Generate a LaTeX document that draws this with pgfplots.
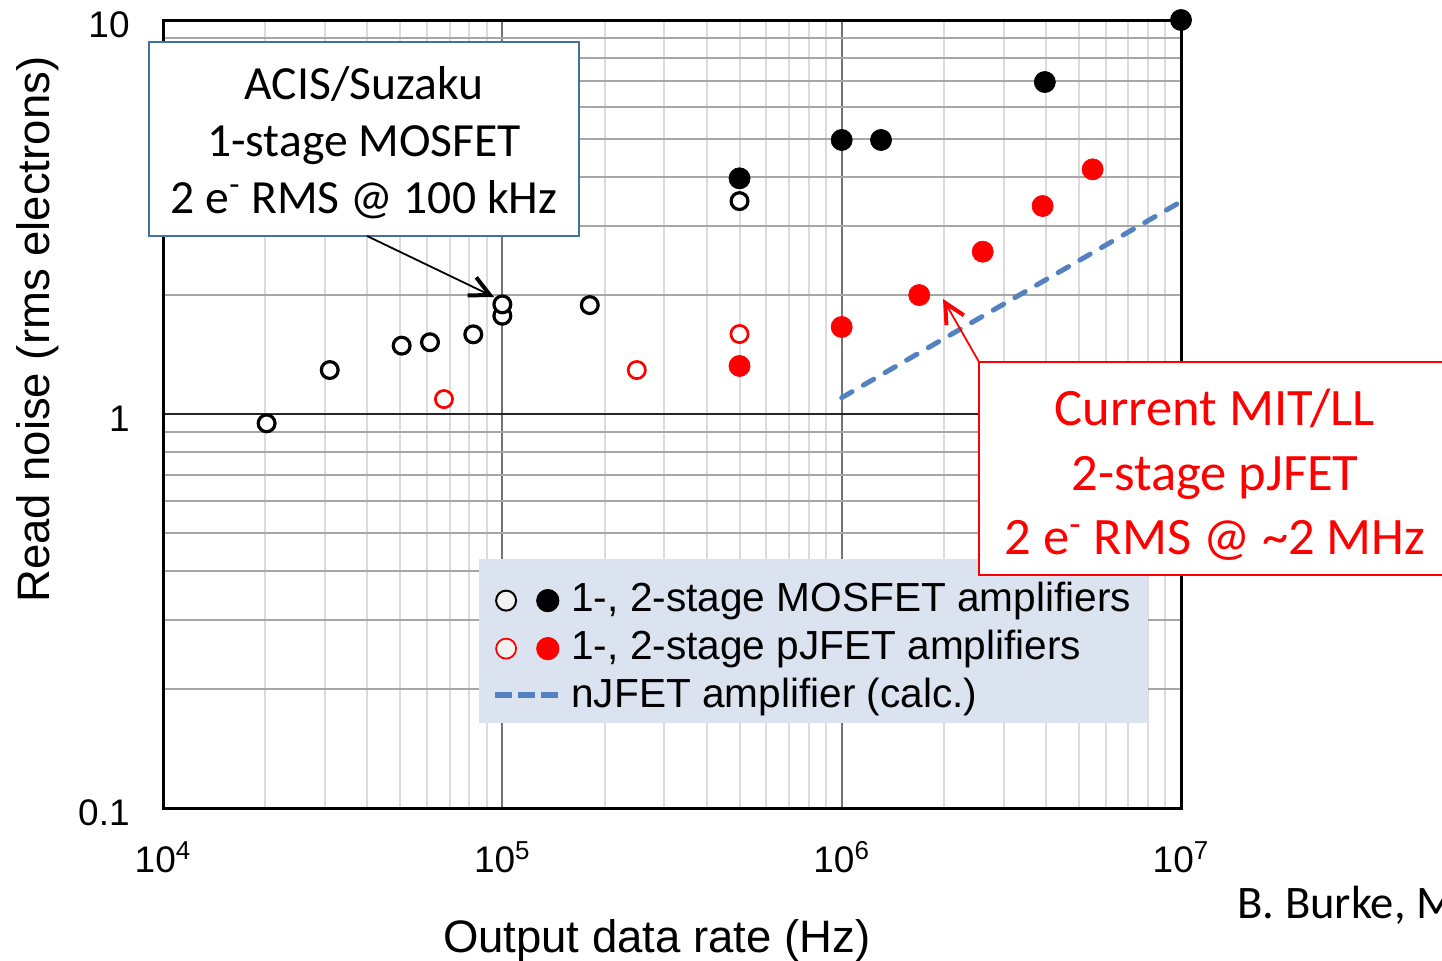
\documentclass[border=0pt]{standalone}
\usepackage{pgfplots}
\pgfplotsset{compat=1.18}
\usepackage{fontspec}
\setmainfont{Liberation Sans}
\newfontfamily\calibri{Carlito}
\usetikzlibrary{arrows.meta}
\definecolor{boxblue}{RGB}{65,113,156}
\definecolor{legbg}{RGB}{219,227,240}
\definecolor{njfet}{RGB}{84,130,192}
\begin{document}
\begin{tikzpicture}
\useasboundingbox (0,0) rectangle (721pt,480pt);
\clip (0,0) rectangle (721pt,480pt);
\begin{axis}[
  at={(81.5pt,76pt)}, anchor=south west,
  scale only axis, width=509pt, height=394pt,
  xmode=log, ymode=log,
  xmin=1e4, xmax=1e7, ymin=0.1, ymax=10,
  clip=false,
  xtick={1e4,1e5,1e6,1e7},
  xticklabels={10\textsuperscript{4},10\textsuperscript{5},10\textsuperscript{6},10\textsuperscript{7}},
  ytick={0.1,1,10}, yticklabels={0.1,1,10},
  /pgf/number format/assume math mode=true,
  tick label style={font=\fontsize{18.5}{20}\selectfont, inner sep=0pt},
  xticklabel style={anchor=base, yshift=-32pt},
  yticklabel style={anchor=base east, xshift=-16.5pt, yshift=-8.5pt},
  major tick length=0pt, minor tick length=0pt,
  grid=both,
  major x grid style={black!55, line width=1pt},
  major y grid style={black!85, line width=1pt},
  minor x grid style={black!14, line width=1pt},
  minor y grid style={black!35, line width=1pt},
  axis line style={line width=1.5pt},
  xlabel={Output data rate (Hz)},
  ylabel={Read noise (rms electrons)},
  label style={font=\fontsize{22.75}{26}\selectfont},
  xlabel style={at={(axis description cs:0.485,-0.168)}, anchor=center},
  ylabel style={at={(axis description cs:-0.1227,0.607)}, anchor=center},
  legend style={at={(rel axis cs:0.3104,0.317)}, anchor=north west, fill=legbg, draw=none,
    font=\fontsize{20.3}{24}\selectfont, inner xsep=6.5pt, inner ysep=5pt, row sep=0pt,
    nodes={inner sep=2pt, text height=19.5pt, text depth=0.5pt},
    /tikz/every odd column/.append style={column sep=3pt}},
  legend cell align=left,
]
% 1-stage MOSFET (open black)
\addplot[only marks, mark=*, mark size=4.2pt, mark options={draw=black, fill=white, line width=1.6pt}, forget plot]
coordinates {(2.02e4,0.947) (3.1e4,1.293) (5.05e4,1.491) (6.12e4,1.521) (8.21e4,1.593) (1.0e5,1.776) (1.0e5,1.898) (1.81e5,1.890) (5.0e5,3.47)};
% 2-stage MOSFET (filled black)
\addplot[only marks, mark=*, mark size=5.3pt, mark options={draw=black, fill=black, line width=0.3pt}, forget plot]
coordinates {(5.0e5,3.965) (1.0e6,4.96) (1.306e6,4.96) (3.97e6,6.96) (1.0e7,10.0)};
% 1-stage pJFET (open red)
\addplot[only marks, mark=*, mark size=4.3pt, mark options={draw=red, fill=white, line width=1.35pt}, forget plot]
coordinates {(6.73e4,1.091) (2.49e5,1.293) (5.0e5,1.596)};
% 2-stage pJFET (filled red)
\addplot[only marks, mark=*, mark size=5.3pt, mark options={draw=red, fill=red, line width=0.3pt}, forget plot]
coordinates {(5.0e5,1.324) (1.0e6,1.663) (1.693e6,2.004) (2.604e6,2.582) (3.91e6,3.372) (5.49e6,4.178)};
% nJFET (calc.)
\addplot[njfet, line width=2.5pt, line cap=round, dash pattern=on 6pt off 6.5pt, forget plot]
coordinates {(1.0e6,1.10) (1.0e7,3.46)};

\addlegendimage{legend image code/.code={
  \draw[black, line width=1pt, fill=black!5] (5.35pt,-4pt) circle (5pt);
  \fill[black] (26.2pt,-4pt) circle (5.6pt);
}}
\addlegendentry{1-, 2-stage MOSFET amplifiers}
\addlegendimage{legend image code/.code={
  \draw[red, line width=0.9pt, fill=black!5] (5.35pt,-4pt) circle (5pt);
  \fill[red] (26.2pt,-4pt) circle (5.6pt);
}}
\addlegendentry{1-, 2-stage pJFET amplifiers}
\addlegendimage{legend image code/.code={
  \draw[njfet, line width=3pt, dash pattern=on 8.5pt off 3pt] (0pt,-3pt) -- (31.5pt,-3pt);
}}
\addlegendentry{nJFET amplifier (calc.)}
\end{axis}

\begin{scope}[shift={(0pt,480pt)}, x=0.5pt, y=-0.5pt]
  % ACIS/Suzaku box
  \draw[boxblue, line width=1pt, fill=white] (149,42) rectangle (579,236);
  \node[align=center, font=\calibri\fontsize{23.8}{28.5}\selectfont] at (364,143)
    {ACIS/Suzaku\\1-stage MOSFET\\2 e\textsuperscript{-} RMS @ 100 kHz};
  \draw[black, line width=0.9pt, -{Straight Barb[length=10pt,width=10pt,line width=2pt]}] (367,236) -- (494,297);
  % MIT/LL box
  \draw[red, line width=0.9pt, -{Straight Barb[length=10pt,width=10pt,line width=2pt]}] (979,362) -- (943,299);
  \draw[red, line width=1pt, fill=white] (979,362) rectangle (1452,575);
  \node[align=center, text=red, font=\calibri\fontsize{26.3}{32.25}\selectfont] at (1215,475)
    {Current MIT/LL\\2-stage pJFET\\2 e\textsuperscript{-} RMS @ \textasciitilde 2 MHz};
  \node[anchor=base west, inner sep=0pt, font=\calibri\fontsize{23.3}{28}\selectfont] at (1237,918) {B. Burke, M};
\end{scope}
\end{tikzpicture}
\end{document}
